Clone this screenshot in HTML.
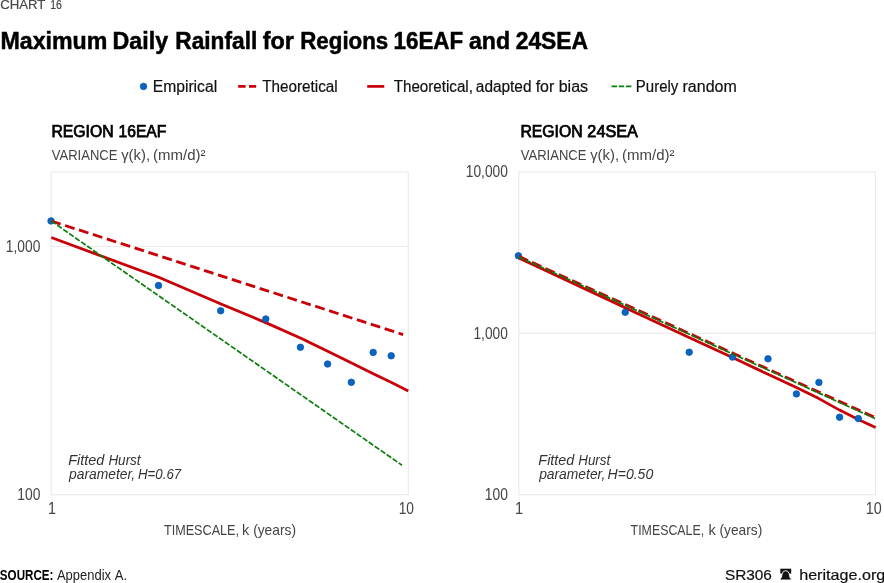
<!DOCTYPE html>
<html lang="en">
<head>
<meta charset="utf-8">
<title>Chart 16 - Maximum Daily Rainfall for Regions 16EAF and 24SEA</title>
<style>
  html, body { margin: 0; padding: 0; background: #ffffff; }
  body { width: 884px; height: 583px; overflow: hidden; }
  svg { display: block; }
  text { font-family: "Liberation Sans", sans-serif; fill: #111111; }
  .kicker { font-size: 13.5px; fill: #484848; stroke: #484848; stroke-width: 0.2px; }
  .title { font-size: 23.5px; font-weight: bold; fill: #000000; stroke: #000000; stroke-width: 0.5px; }
  .legend { font-size: 16px; fill: #111111; stroke: #111111; stroke-width: 0.2px; }
  .sub { font-size: 16px; fill: #000000; stroke: #000000; stroke-width: 0.75px; }
  .unit { font-size: 14.2px; fill: #444444; }
  .tick { font-size: 15.8px; fill: #444444; }
  .axis { font-size: 14.5px; fill: #444444; }
  .note { font-size: 14.4px; font-style: italic; fill: #333333; }
  .src { font-size: 14.6px; fill: #222222; }
  .srcb { font-size: 14.6px; font-weight: bold; fill: #000000; }
  .foot { font-size: 15px; fill: #111111; stroke: #111111; stroke-width: 0.2px; }
  .frame { fill: none; stroke: #ebebeb; stroke-width: 1.2; }
  .grid { stroke: #ebebeb; stroke-width: 1.2; }
  .rs { fill: none; stroke: #c90008; stroke-width: 2.8; stroke-linejoin: round; }
  .rd { fill: none; stroke: #c90008; stroke-width: 2.85; stroke-dasharray: 9.9 4.7; }
  .gd { fill: none; stroke: #0c7e0c; stroke-width: 1.7; stroke-dasharray: 5.5 1.8; }
  .dot { fill: #0866bf; stroke: #0455ba; stroke-width: 0.8; }
</style>
</head>
<body>
<svg width="884" height="583" viewBox="0 0 884 583">
  <rect x="0" y="0" width="884" height="583" fill="#ffffff"/>

  <!-- legend marks -->
  <g id="legend-marks">
    <circle class="dot" cx="143.5" cy="86.4" r="3.25"/>
    <line x1="238.2" y1="86.35" x2="256.2" y2="86.35" stroke="#c90008" stroke-width="2.7" stroke-dasharray="7.4 3.4"/>
    <line x1="367.2" y1="86.4" x2="384.3" y2="86.4" stroke="#c90008" stroke-width="2.7"/>
    <line x1="611.5" y1="86.3" x2="631.8" y2="86.3" stroke="#0c7e0c" stroke-width="1.7" stroke-dasharray="5.5 1.7"/>
  </g>

  <!-- chart 1 -->
  <g id="chart1">
    <rect class="frame" x="51.3" y="172" width="357" height="322.6"/>
    <line class="grid" x1="51.3" y1="246.5" x2="408.3" y2="246.5"/>
    <polyline class="rs" points="51.3,237.5 158.7,277.3 221.6,304.2 266.3,322.9 300.9,338.3 329.2,352 353.1,363.7 373.8,374 392,382.7 408.3,390.9"/>
    <circle class="dot" cx="51" cy="220.9" r="3.25"/>
    <circle class="dot" cx="158.5" cy="285.5" r="3.25"/>
    <circle class="dot" cx="220.7" cy="310.8" r="3.25"/>
    <circle class="dot" cx="265.8" cy="319" r="3.25"/>
    <circle class="dot" cx="300.4" cy="347.3" r="3.25"/>
    <circle class="dot" cx="327.6" cy="364" r="3.25"/>
    <circle class="dot" cx="351.3" cy="382.3" r="3.25"/>
    <circle class="dot" cx="373.2" cy="352.4" r="3.25"/>
    <circle class="dot" cx="391.2" cy="355.8" r="3.25"/>
    <line class="rd" x1="51.2" y1="221" x2="403.1" y2="334.6"/>
    <line class="gd" x1="51.2" y1="221" x2="402" y2="465.2"/>
  </g>

  <!-- chart 2 -->
  <g id="chart2">
    <rect class="frame" x="518.8" y="172" width="356.6" height="322.6"/>
    <line class="grid" x1="518.8" y1="333.3" x2="875.4" y2="333.3"/>
    <polyline class="rs" points="518.8,258.1 625.2,307.7 689.1,337.4 732.5,357.6 768,374.3 796.4,387.6 818.9,398.6 839.6,410.1 858.3,419.5 875.6,427.4"/>
    <circle class="dot" cx="518.4" cy="255.8" r="3.25"/>
    <circle class="dot" cx="625.2" cy="312.3" r="3.25"/>
    <circle class="dot" cx="689.2" cy="352.2" r="3.25"/>
    <circle class="dot" cx="732.5" cy="357.1" r="3.25"/>
    <circle class="dot" cx="768" cy="358.8" r="3.25"/>
    <circle class="dot" cx="796.4" cy="393.9" r="3.25"/>
    <circle class="dot" cx="818.9" cy="382.4" r="3.25"/>
    <circle class="dot" cx="839.6" cy="417.2" r="3.25"/>
    <circle class="dot" cx="858.3" cy="418.6" r="3.25"/>
    <line class="rd" x1="518.8" y1="256.4" x2="875" y2="417.5"/>
    <line class="gd" x1="518.8" y1="256.9" x2="875" y2="418.5"/>
  </g>

  <!-- bell icon -->
  <g id="bell" fill="#111111">
    <rect x="780.3" y="568.7" width="10.9" height="4.9"/>
    <path d="M780.1 580 L780.1 578.9 L781.3 577.7 Q781.8 575.6 782.2 573.7 Q783 570.7 785.7 570.7 Q788.4 570.7 789.2 573.7 Q789.6 575.6 790.1 577.7 L791.3 578.9 L791.3 580 Z" stroke="#ffffff" stroke-width="0.9"/>
  </g>

  <!-- all text -->
  <text class="kicker" y="9.0"><tspan x="0.14" textLength="45.06" lengthAdjust="spacingAndGlyphs">CHART</tspan> <tspan x="50.20" textLength="11.66" lengthAdjust="spacingAndGlyphs">16</tspan></text>
  <text class="title" y="48.5"><tspan x="0.50" textLength="106.78" lengthAdjust="spacingAndGlyphs">Maximum</tspan> <tspan x="112.49" textLength="55.58" lengthAdjust="spacingAndGlyphs">Daily</tspan> <tspan x="175.33" textLength="81.92" lengthAdjust="spacingAndGlyphs">Rainfall</tspan> <tspan x="262.75" textLength="31.15" lengthAdjust="spacingAndGlyphs">for</tspan> <tspan x="300.26" textLength="88.01" lengthAdjust="spacingAndGlyphs">Regions</tspan> <tspan x="393.54" textLength="69.63" lengthAdjust="spacingAndGlyphs">16EAF</tspan> <tspan x="468.97" textLength="41.10" lengthAdjust="spacingAndGlyphs">and</tspan> <tspan x="515.66" textLength="72.50" lengthAdjust="spacingAndGlyphs">24SEA</tspan></text>
  <text class="legend" y="92"><tspan x="152.71" textLength="64.43" lengthAdjust="spacingAndGlyphs">Empirical</tspan></text>
  <text class="legend" y="92"><tspan x="262.16" textLength="75.56" lengthAdjust="spacingAndGlyphs">Theoretical</tspan></text>
  <text class="legend" y="92"><tspan x="393.76" textLength="79.20" lengthAdjust="spacingAndGlyphs">Theoretical,</tspan> <tspan x="475.85" textLength="55.65" lengthAdjust="spacingAndGlyphs">adapted</tspan> <tspan x="535.67" textLength="18.59" lengthAdjust="spacingAndGlyphs">for</tspan> <tspan x="558.67" textLength="29.41" lengthAdjust="spacingAndGlyphs">bias</tspan></text>
  <text class="legend" y="92"><tspan x="635.87" textLength="42.46" lengthAdjust="spacingAndGlyphs">Purely</tspan> <tspan x="682.54" textLength="54.22" lengthAdjust="spacingAndGlyphs">random</tspan></text>
  <text class="sub" y="137.4"><tspan x="51.48" textLength="62.13" lengthAdjust="spacingAndGlyphs">REGION</tspan> <tspan x="118.48" textLength="47.87" lengthAdjust="spacingAndGlyphs">16EAF</tspan></text>
  <text class="unit" y="159.6"><tspan x="51.74" textLength="65.71" lengthAdjust="spacingAndGlyphs">VARIANCE</tspan> <tspan x="121.15" textLength="28.89" lengthAdjust="spacingAndGlyphs">γ(k),</tspan> <tspan x="153.07" textLength="52.41" lengthAdjust="spacingAndGlyphs">(mm/d)²</tspan></text>
  <text class="sub" y="137.4"><tspan x="520.48" textLength="62.13" lengthAdjust="spacingAndGlyphs">REGION</tspan> <tspan x="587.36" textLength="50.50" lengthAdjust="spacingAndGlyphs">24SEA</tspan></text>
  <text class="unit" y="159.6"><tspan x="520.74" textLength="65.71" lengthAdjust="spacingAndGlyphs">VARIANCE</tspan> <tspan x="590.15" textLength="28.89" lengthAdjust="spacingAndGlyphs">γ(k),</tspan> <tspan x="622.07" textLength="52.41" lengthAdjust="spacingAndGlyphs">(mm/d)²</tspan></text>
  <text class="tick" y="252.0"><tspan x="5.85" textLength="34.49" lengthAdjust="spacingAndGlyphs">1,000</tspan></text>
  <text class="tick" y="499.9"><tspan x="17.25" textLength="23.10" lengthAdjust="spacingAndGlyphs">100</tspan></text>
  <text class="tick" y="513.6"><tspan x="47.90" textLength="8.00" lengthAdjust="spacingAndGlyphs">1</tspan></text>
  <text class="tick" y="513.6"><tspan x="398.65" textLength="15.28" lengthAdjust="spacingAndGlyphs">10</tspan></text>
  <text class="tick" y="177.0"><tspan x="465.75" textLength="42.09" lengthAdjust="spacingAndGlyphs">10,000</tspan></text>
  <text class="tick" y="338.7"><tspan x="473.45" textLength="34.38" lengthAdjust="spacingAndGlyphs">1,000</tspan></text>
  <text class="tick" y="499.9"><tspan x="484.75" textLength="23.10" lengthAdjust="spacingAndGlyphs">100</tspan></text>
  <text class="tick" y="513.6"><tspan x="514.99" textLength="8.13" lengthAdjust="spacingAndGlyphs">1</tspan></text>
  <text class="tick" y="513.6"><tspan x="865.81" textLength="15.95" lengthAdjust="spacingAndGlyphs">10</tspan></text>
  <text class="axis" y="534.7"><tspan x="163.92" textLength="75.12" lengthAdjust="spacingAndGlyphs">TIMESCALE,</tspan> <tspan x="242.02" textLength="7.26" lengthAdjust="spacingAndGlyphs">k</tspan> <tspan x="253.14" textLength="42.91" lengthAdjust="spacingAndGlyphs">(years)</tspan></text>
  <text class="axis" y="534.7"><tspan x="630.62" textLength="73.59" lengthAdjust="spacingAndGlyphs">TIMESCALE,</tspan> <tspan x="708.52" textLength="7.26" lengthAdjust="spacingAndGlyphs">k</tspan> <tspan x="719.45" textLength="42.81" lengthAdjust="spacingAndGlyphs">(years)</tspan></text>
  <text class="note" y="464.8"><tspan x="68.26" textLength="36.16" lengthAdjust="spacingAndGlyphs">Fitted</tspan> <tspan x="108.38" textLength="32.25" lengthAdjust="spacingAndGlyphs">Hurst</tspan></text>
  <text class="note" y="478.6"><tspan x="69.04" textLength="66.15" lengthAdjust="spacingAndGlyphs">parameter,</tspan> <tspan x="137.99" textLength="43.20" lengthAdjust="spacingAndGlyphs">H=0.67</tspan></text>
  <text class="note" y="464.8"><tspan x="538.36" textLength="35.96" lengthAdjust="spacingAndGlyphs">Fitted</tspan> <tspan x="578.29" textLength="31.95" lengthAdjust="spacingAndGlyphs">Hurst</tspan></text>
  <text class="note" y="478.6"><tspan x="539.14" textLength="66.15" lengthAdjust="spacingAndGlyphs">parameter,</tspan> <tspan x="607.57" textLength="45.65" lengthAdjust="spacingAndGlyphs">H=0.50</tspan></text>
  <text class="srcb" y="579.7"><tspan x="-0.13" textLength="53.55" lengthAdjust="spacingAndGlyphs">SOURCE:</tspan></text>
  <text class="src" y="579.7"><tspan x="56.97" textLength="54.06" lengthAdjust="spacingAndGlyphs">Appendix</tspan> <tspan x="114.77" textLength="12.32" lengthAdjust="spacingAndGlyphs">A.</tspan></text>
  <text class="foot" y="579.7"><tspan x="724.90" textLength="46.97" lengthAdjust="spacingAndGlyphs">SR306</tspan></text>
  <text class="foot" y="579.7"><tspan x="799.18" textLength="86.06" lengthAdjust="spacingAndGlyphs">heritage.org</tspan></text>
</svg>
</body>
</html>
